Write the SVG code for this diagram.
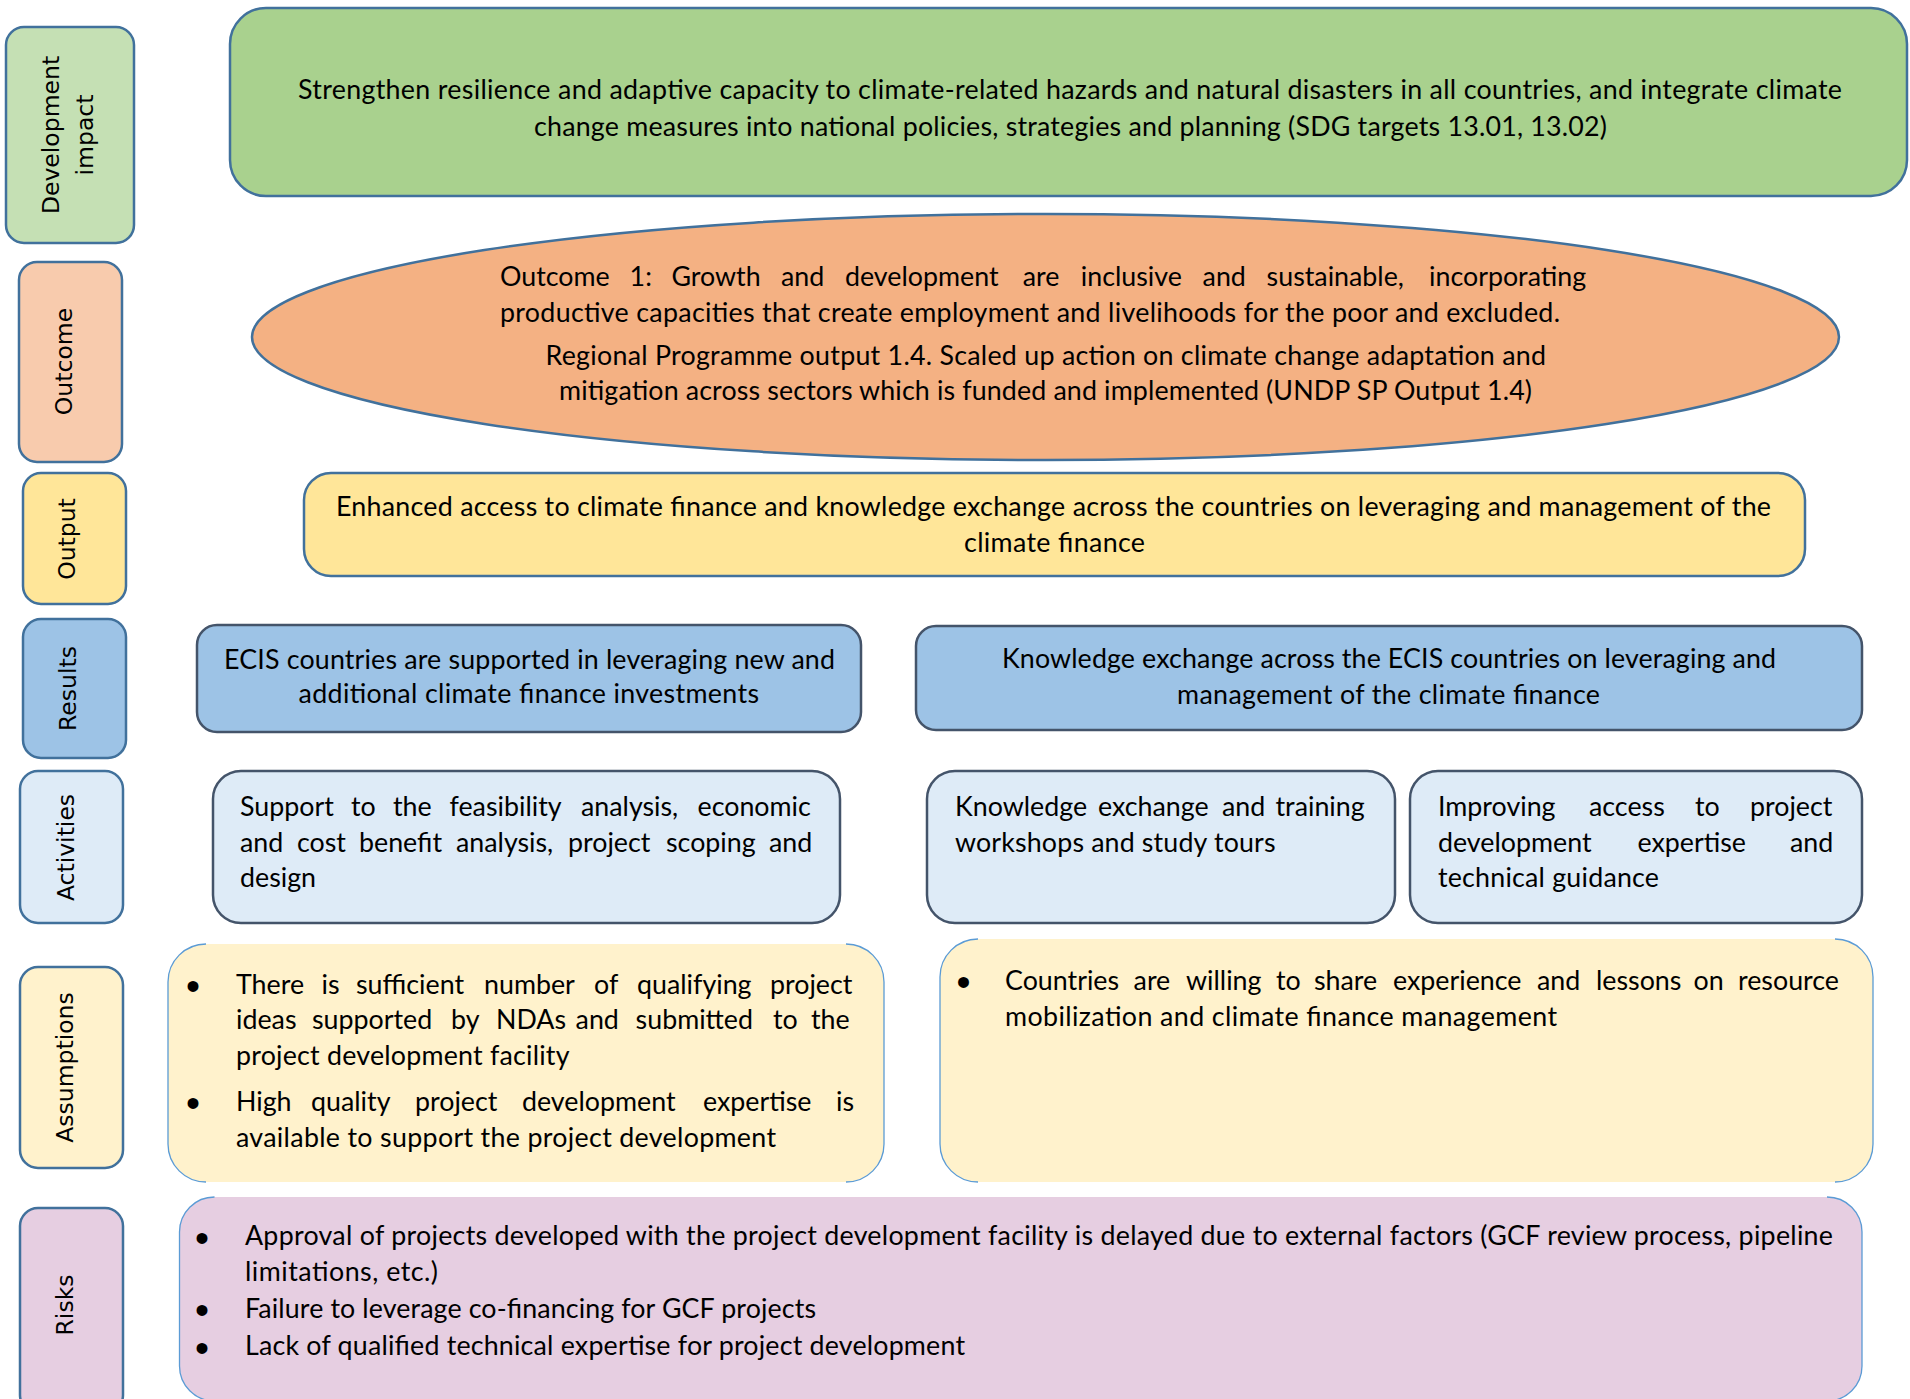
<svg xmlns="http://www.w3.org/2000/svg" width="1910" height="1399" viewBox="0 0 1910 1399">
<style>
.lbl{stroke:#41719c;stroke-width:2.5}
.lt{font-family:"DejaVu Sans",Verdana,sans-serif;font-size:23.5px;fill:#000;text-anchor:middle}
.t{font-family:Lato,"Liberation Sans",sans-serif;font-size:26.8px;fill:#000}
.blue{stroke:#41719c;stroke-width:2.5}
.dark{stroke:#44546a;stroke-width:2.5}
.thin{fill:none;stroke:#5b9bd5;stroke-width:1.3}
.bul{font-family:"Liberation Sans",Arial,sans-serif;font-size:40px;fill:#000;text-anchor:middle}
</style>
<rect width="1910" height="1399" fill="#fff"/>

<g id="label-development-impact">
<rect class="lbl" x="6" y="27" width="128" height="216" rx="18" fill="#c5e0b4"/>
<text class="lt" transform="translate(59,135) rotate(-90)">Development</text>
<text class="lt" transform="translate(93,135) rotate(-90)">impact</text>
</g>
<g id="label-outcome">
<rect class="lbl" x="19" y="262" width="103" height="200" rx="18" fill="#f8cbad"/>
<text class="lt" transform="translate(71.5,361.5) rotate(-90)">Outcome</text>
</g>
<g id="label-output">
<rect class="lbl" x="23" y="473" width="103" height="131" rx="18" fill="#ffe699"/>
<text class="lt" transform="translate(75,539) rotate(-90)">Output</text>
</g>
<g id="label-results">
<rect class="lbl" x="23" y="619" width="103" height="139" rx="18" fill="#9dc3e6"/>
<text class="lt" transform="translate(76,688.5) rotate(-90)">Results</text>
</g>
<g id="label-activities">
<rect class="lbl" x="20" y="771" width="103" height="152" rx="18" fill="#deebf7"/>
<text class="lt" transform="translate(74,847.5) rotate(-90)">Activities</text>
</g>
<g id="label-assumptions">
<rect class="lbl" x="20" y="967" width="103" height="201" rx="18" fill="#fff2cc"/>
<text class="lt" transform="translate(73,1067.5) rotate(-90)">Assumptions</text>
</g>
<g id="label-risks">
<rect class="lbl" x="20" y="1208" width="103" height="205" rx="18" fill="#e6cee1"/>
<text class="lt" transform="translate(73,1305) rotate(-90)">Risks</text>
</g>

<g id="development-impact">
<rect class="blue" x="230" y="8" width="1677" height="188" rx="36" fill="#a9d18e"/>
<text class="t" x="298" y="99" textLength="1544" lengthAdjust="spacing">Strengthen resilience and adaptive capacity to climate-related hazards and natural disasters in all countries, and integrate climate</text>
<text class="t" x="534" y="136" textLength="1073" lengthAdjust="spacing">change measures into national policies, strategies and planning (SDG targets 13.01, 13.02)</text>
</g>

<g id="outcome">
<ellipse class="blue" cx="1045.5" cy="337" rx="793.5" ry="123" fill="#f4b183"/>
<text class="t" y="286"><tspan x="500">Outcome</tspan> <tspan x="629.6">1:</tspan> <tspan x="671.5">Growth</tspan> <tspan x="781">and</tspan> <tspan x="845">development</tspan> <tspan x="1022.7">are</tspan> <tspan x="1080.8">inclusive</tspan> <tspan x="1202.6">and</tspan> <tspan x="1266.6">sustainable,</tspan> <tspan x="1429">incorporating</tspan></text>
<text class="t" x="500" y="322" textLength="1060" lengthAdjust="spacing">productive capacities that create employment and livelihoods for the poor and excluded.</text>
<text class="t" x="545.5" y="365" textLength="1000.5" lengthAdjust="spacing">Regional Programme output 1.4. Scaled up action on climate change adaptation and</text>
<text class="t" x="559" y="400" textLength="973" lengthAdjust="spacing">mitigation across sectors which is funded and implemented (UNDP SP Output 1.4)</text>
</g>

<g id="output">
<rect class="blue" x="304" y="473" width="1501" height="103" rx="27" fill="#ffe699"/>
<text class="t" x="336" y="516" textLength="1435" lengthAdjust="spacing">Enhanced access to climate finance and knowledge exchange across the countries on leveraging and management of the</text>
<text class="t" x="964" y="552" textLength="181" lengthAdjust="spacing">climate finance</text>
</g>

<g id="result-1">
<rect class="dark" x="197" y="625" width="664" height="107" rx="20" fill="#9dc3e6"/>
<text class="t" x="224" y="669" textLength="611" lengthAdjust="spacing">ECIS countries are supported in leveraging new and</text>
<text class="t" x="298.5" y="703" textLength="460.5" lengthAdjust="spacing">additional climate finance investments</text>
</g>
<g id="result-2">
<rect class="dark" x="916" y="626" width="946" height="104" rx="20" fill="#9dc3e6"/>
<text class="t" x="1002" y="668" textLength="774" lengthAdjust="spacing">Knowledge exchange across the ECIS countries on leveraging and</text>
<text class="t" x="1177" y="704" textLength="423" lengthAdjust="spacing">management of the climate finance</text>
</g>

<g id="activity-1">
<rect class="dark" x="213" y="771" width="627" height="152" rx="28" fill="#deebf7"/>
<text class="t" y="816"><tspan x="240">Support</tspan> <tspan x="351">to</tspan> <tspan x="393">the</tspan> <tspan x="449.5">feasibility</tspan> <tspan x="581">analysis,</tspan> <tspan x="697.5">economic</tspan></text>
<text class="t" y="852"><tspan x="240">and</tspan> <tspan x="297">cost</tspan> <tspan x="359">benefit</tspan> <tspan x="456">analysis,</tspan> <tspan x="568">project</tspan> <tspan x="666">scoping</tspan> <tspan x="769">and</tspan></text>
<text class="t" x="240" y="887">design</text>
</g>
<g id="activity-2">
<rect class="dark" x="927" y="771" width="468" height="152" rx="28" fill="#deebf7"/>
<text class="t" y="816"><tspan x="955">Knowledge</tspan> <tspan x="1098">exchange</tspan> <tspan x="1222">and</tspan> <tspan x="1275.5">training</tspan></text>
<text class="t" x="955" y="852" textLength="320.5" lengthAdjust="spacing">workshops and study tours</text>
</g>
<g id="activity-3">
<rect class="dark" x="1410" y="771" width="452" height="152" rx="28" fill="#deebf7"/>
<text class="t" y="816"><tspan x="1438">Improving</tspan> <tspan x="1589">access</tspan> <tspan x="1695">to</tspan> <tspan x="1750">project</tspan></text>
<text class="t" y="852"><tspan x="1438">development</tspan> <tspan x="1637.5">expertise</tspan> <tspan x="1790">and</tspan></text>
<text class="t" x="1438" y="887" textLength="221" lengthAdjust="spacing">technical guidance</text>
</g>

<g id="assumptions-1">
<rect x="168" y="944" width="716" height="238" rx="38" fill="#fff2cc"/>
<path class="thin" d="M206,944 A38,38 0 0 0 168,982 L168,1144 A38,38 0 0 0 206,1182 M846,944 A38,38 0 0 1 884,982 L884,1144 A38,38 0 0 1 846,1182"/>
<text class="bul" x="193" y="1000">•</text>
<text class="t" y="994"><tspan x="236">There</tspan> <tspan x="321.5">is</tspan> <tspan x="356">sufficient</tspan> <tspan x="484">number</tspan> <tspan x="594">of</tspan> <tspan x="637">qualifying</tspan> <tspan x="770">project</tspan></text>
<text class="t" y="1029"><tspan x="236">ideas</tspan> <tspan x="312">supported</tspan> <tspan x="451">by</tspan> <tspan x="496">NDAs</tspan> <tspan x="575.6">and</tspan> <tspan x="635.6">submitted</tspan> <tspan x="773">to</tspan> <tspan x="811">the</tspan></text>
<text class="t" x="236" y="1065" textLength="333.5" lengthAdjust="spacing">project development facility</text>
<text class="bul" x="193" y="1117">•</text>
<text class="t" y="1111"><tspan x="236">High</tspan> <tspan x="311">quality</tspan> <tspan x="415">project</tspan> <tspan x="522">development</tspan> <tspan x="703">expertise</tspan> <tspan x="836">is</tspan></text>
<text class="t" x="236" y="1147" textLength="540" lengthAdjust="spacing">available to support the project development</text>
</g>
<g id="assumptions-2">
<rect x="940" y="939" width="933" height="243" rx="38" fill="#fff2cc"/>
<path class="thin" d="M978,939 A38,38 0 0 0 940,977 L940,1144 A38,38 0 0 0 978,1182 M1835,939 A38,38 0 0 1 1873,977 L1873,1144 A38,38 0 0 1 1835,1182"/>
<text class="bul" x="963.5" y="996">•</text>
<text class="t" y="990"><tspan x="1005">Countries</tspan> <tspan x="1133.6">are</tspan> <tspan x="1186">willing</tspan> <tspan x="1276">to</tspan> <tspan x="1314">share</tspan> <tspan x="1393">experience</tspan> <tspan x="1537">and</tspan> <tspan x="1596">lessons</tspan> <tspan x="1693.5">on</tspan> <tspan x="1738">resource</tspan></text>
<text class="t" x="1005" y="1026" textLength="552" lengthAdjust="spacing">mobilization and climate finance management</text>
</g>

<g id="risks">
<rect x="179.5" y="1197" width="1682.5" height="204" rx="35" fill="#e6cee1"/>
<path class="thin" d="M214.5,1197 A35,35 0 0 0 179.5,1232 L179.5,1366 A35,35 0 0 0 214.5,1401 M1827,1197 A35,35 0 0 1 1862,1232 L1862,1366 A35,35 0 0 1 1827,1401"/>
<text class="bul" x="202" y="1252">•</text>
<text class="t" x="245" y="1245" textLength="1588" lengthAdjust="spacing">Approval of projects developed with the project development facility is delayed due to external factors (GCF review process, pipeline</text>
<text class="t" x="245" y="1281" textLength="193" lengthAdjust="spacing">limitations, etc.)</text>
<text class="bul" x="202" y="1324">•</text>
<text class="t" x="245" y="1318" textLength="571" lengthAdjust="spacing">Failure to leverage co-financing for GCF projects</text>
<text class="bul" x="202" y="1362">•</text>
<text class="t" x="245" y="1355" textLength="720" lengthAdjust="spacing">Lack of qualified technical expertise for project development</text>
</g>

<g id="connectors"></g>
</svg>
